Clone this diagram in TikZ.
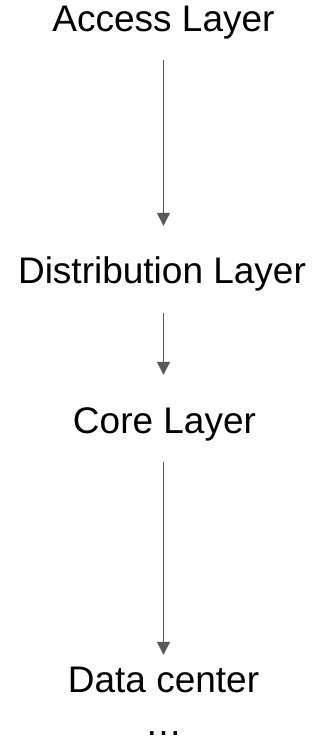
\documentclass[tikz,border=0pt]{standalone}
\usepackage{fontspec}
\setmainfont{Liberation Sans}
\usetikzlibrary{arrows.meta}
\begin{document}
\begin{tikzpicture}[x=1pt,y=-1pt,
  label font/.style={font=\fontsize{37}{40}\selectfont},
  layer/.style={label font, inner sep=0pt, anchor=base, text height=27pt, text depth=8pt},
  trail/.style={label font, inner sep=0pt, anchor=base},
  flow/.style={draw=black!65, line width=1.3pt,
    -{Triangle[length=13pt,width=13pt]}}]
  \useasboundingbox (0,0) rectangle (321,741);
  % layers, top to bottom
  \node[layer] (access) at (163.5,32)  {Access Layer};
  \node[layer] (dist)   at (162,283)   {Distribution Layer};
  \node[layer] (core)   at (164.5,433) {Core Layer};
  \node[layer] (dc)     at (163.5,692) {Data center};
  \node[trail] (more)   at (163.5,735) {\char"2026};
  % downward arrows between the layers
  \draw[flow, shorten <=20pt, shorten >=30pt] (access.south -| 163.5,0) -- (dist.north -| 163.5,0);
  \draw[flow, shorten <=22pt, shorten >=31pt] (dist.south -| 163.5,0) -- (core.north -| 163.5,0);
  \draw[flow, shorten <=21pt, shorten >=10pt] (core.south -| 163.5,0) -- (dc.north -| 163.5,0);
\end{tikzpicture}
\end{document}
